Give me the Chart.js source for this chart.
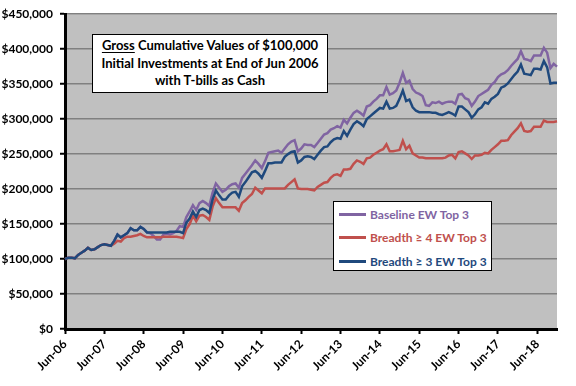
<!DOCTYPE html>
<html>
<head>
<meta charset="utf-8">
<script src="https://cdn.jsdelivr.net/npm/chart.js@4.4.1/dist/chart.umd.min.js"></script>
<style>
  html, body { margin: 0; padding: 0; background: #fff; }
  #wrap { position: relative; width: 576px; height: 386px; }
  #chart { position: absolute; left: 0; top: 0; }
  #titleBox {
    position: absolute; left: 92px; top: 34px; width: 234px; height: 55px;
    border: 1px solid #000; background: #fff; color: #000;
    font: bold 13px Lato, sans-serif; text-align: center; line-height: 17.5px;
    padding-top: 2px; box-sizing: content-box;
  }
  #titleBox u { text-underline-offset: 2px; }
  #legendBox {
    position: absolute; left: 333px; top: 201px; width: 157px; height: 68px;
    border: 1px solid #000; background: #fff;
    font: bold 12px Lato, sans-serif; white-space: nowrap;
  }
  .legend-row { position: absolute; left: 5px; height: 16px; display: flex; align-items: center; }
  .legend-row span.swatch { display: inline-block; width: 27px; height: 3px; margin-right: 4px; }
</style>
</head>
<body>
<div id="wrap">
  <canvas id="chart" width="576" height="386"></canvas>
  <div id="titleBox"></div>
  <div id="legendBox"></div>
</div>
<script>
// ---- data (values in $, monthly, Jun-2006 .. Dec-2018) ----
const seriesNames = ["Baseline EW Top 3", "Breadth \u2265 4 EW Top 3", "Breadth \u2265 3 EW Top 3"];
const seriesColors = ["#8064A2", "#C0504D", "#1F497D"];
const titleLines = ["<u>Gross</u> Cumulative Values of $100,000", "Initial Investments at End of Jun 2006", "with T-bills as Cash"];
const tickLabels = ["Jun-06", "Jun-07", "Jun-08", "Jun-09", "Jun-10", "Jun-11", "Jun-12",
                    "Jun-13", "Jun-14", "Jun-15", "Jun-16", "Jun-17", "Jun-18"];
const yTicks = [0, 50000, 100000, 150000, 200000, 250000, 300000, 350000, 400000, 450000];

// thousands of dollars, one row per Jun..May year
const baseline = [
  100,102,102,101,106,109,112,116,113,114,117,120,
  121,120,119,126,135,131,134,137,144,141,141,146,
  143,138,137,133,128,128,135,136,135,137,140,147,
  146,160,168,177,170,180,183,180,176,195,208,202,
  196,199,204,207,208,202,216,222,228,234,241,236,
  230,240,252,253,254,255,252,258,264,268,270,254,
  258,264,263,263,260,266,272,278,280,285,287,290,
  288,299,294,302,309,312,309,305,318,320,325,329,
  334,334,346,335,337,341,352,366,352,355,343,338,
  336,333,320,319,324,323,325,322,324,325,325,322,
  335,336,330,328,319,325,333,336,339,342,349,353,
  360,364,366,370,376,381,386,397,386,385,383,391,
  391,391,402,395,373,379,375
];
const breadth4 = [
  100,102,102,101,106,109,112,116,113,114,117,120,
  121,120,119,122,126,125,130,132,132,133,134,136,
  133,131,131,131,131,131,132,132,132,132,132,131,
  130,143,150,162,154,162,163,160,156,175,187,180,
  174,174,174,174,174,169,180,184,189,193,202,198,
  194,201,201,201,201,201,201,201,206,210,214,201,
  200,200,200,199,198,203,206,209,210,216,220,221,
  219,228,228,229,236,241,239,236,244,245,249,252,
  255,257,264,254,254,255,256,269,257,262,251,248,
  245,245,244,244,244,244,244,244,245,248,249,244,
  253,254,251,248,243,248,248,249,252,251,256,260,
  264,269,269,270,277,282,287,294,283,282,283,289,
  289,289,298,296,296,296,297
];
const breadth3 = [
  100,102,102,101,106,109,112,116,113,114,117,120,
  121,120,119,126,135,131,134,137,144,141,141,146,
  143,138,138,138,138,138,138,138,139,139,139,139,
  137,152,158,168,160,170,172,170,166,185,198,191,
  185,185,191,195,196,189,204,210,217,224,226,222,
  216,226,237,237,238,238,238,246,250,253,254,238,
  241,246,247,246,243,249,255,260,261,267,271,273,
  272,283,276,285,293,297,294,290,300,304,308,312,
  316,315,325,315,316,319,329,341,326,328,317,312,
  310,310,310,310,309,309,307,306,308,310,308,305,
  318,318,314,310,302,307,314,317,324,322,329,332,
  336,345,347,351,357,363,368,378,365,364,363,372,
  372,371,383,374,351,352,352
];

// month categories Jun-06 ...
const monNames = ["Jan","Feb","Mar","Apr","May","Jun","Jul","Aug","Sep","Oct","Nov","Dec"];
const months = baseline.map((_, i) => {
  const m = (5 + i) % 12;
  const y = 6 + Math.floor((5 + i) / 12);
  return monNames[m] + "-" + String(y).padStart(2, "0");
});

const FONT = { family: "Lato, sans-serif", size: 12, weight: "bold" };

const plotBg = {
  id: "plotBg",
  beforeDraw(chart) {
    const { ctx, chartArea: a } = chart;
    ctx.save();
    ctx.fillStyle = "#C0C0C0";
    ctx.fillRect(a.left, a.top, a.right - a.left, a.bottom - a.top);
    ctx.restore();
  }
};

const allSeries = [baseline, breadth4, breadth3];
const drawOrder = [2, 1, 0]; // dark blue on top

const chart = new Chart(document.getElementById("chart"), {
  type: "line",
  data: {
    labels: months,
    datasets: allSeries.map((s, i) => ({
      label: seriesNames[i],
      data: s.map(v => v * 1000),
      borderColor: seriesColors[i],
      backgroundColor: seriesColors[i],
      borderWidth: 2.5,
      pointRadius: 0,
      tension: 0,
      order: drawOrder[i]
    }))
  },
  options: {
    responsive: false,
    animation: false,
    layout: { padding: { top: 10, right: 19, left: 0, bottom: 0 } },
    plugins: { legend: { display: false }, tooltip: { enabled: false } },
    scales: {
      x: {
        type: "category",
        offset: false,
        afterFit: s => { s.height = 57; },
        border: { color: "#000", width: 3 },
        grid: {
          drawOnChartArea: false,
          drawTicks: true,
          tickLength: 5,
          tickWidth: 2,
          tickColor: c => tickLabels.includes(months[c.index]) ? "#000" : "rgba(0,0,0,0)"
        },
        ticks: {
          autoSkip: false,
          minRotation: 45,
          maxRotation: 45,
          padding: 3,
          color: "#000",
          font: FONT,
          callback: (v, i) => tickLabels.includes(months[i]) ? months[i] : ""
        }
      },
      y: {
        min: yTicks[0],
        max: yTicks[yTicks.length - 1],
        afterFit: s => { s.width = 65; },
        afterBuildTicks: s => { s.ticks = yTicks.map(v => ({ value: v })); },
        border: { color: "#000", width: 3 },
        grid: {
          color: "#808080",
          lineWidth: 1.5,
          drawTicks: true,
          tickLength: 5,
          tickWidth: 2,
          tickColor: "#000"
        },
        ticks: {
          padding: 7,
          color: "#000",
          font: FONT,
          callback: v => "$" + Number(v).toLocaleString("en-US")
        }
      }
    }
  },
  plugins: [plotBg]
});

// title box and legend box as html overlays
document.getElementById("titleBox").innerHTML = titleLines.join("<br>");
const legendBox = document.getElementById("legendBox");
chart.data.datasets.forEach((ds, i) => {
  const row = document.createElement("div");
  row.className = "legend-row";
  row.style.top = (4 + i * 23.5) + "px";
  row.innerHTML = `<span class="swatch" style="background:${ds.borderColor}"></span>` +
                  `<span style="color:${ds.borderColor}">${ds.label}</span>`;
  legendBox.appendChild(row);
});
</script>
</body>
</html>
